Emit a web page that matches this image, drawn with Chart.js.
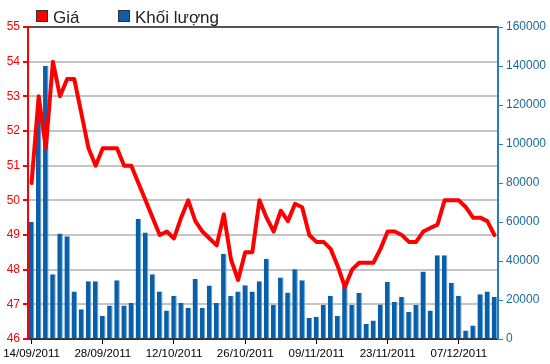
<!DOCTYPE html>
<html>
<head>
<meta charset="utf-8">
<script src="https://cdn.jsdelivr.net/npm/chart.js@4.4.1/dist/chart.umd.min.js"></script>
<style>
  html, body { margin: 0; padding: 0; background: #fff; }
  #wrap { width: 550px; height: 364px; }
</style>
</head>
<body>
<div id="wrap"><canvas id="chart" width="550" height="364"></canvas></div>
<script>
// Trading days (categories)
const dates = [
  '14/09/2011', '15/09/2011', '16/09/2011', '19/09/2011', '20/09/2011', '21/09/2011', '22/09/2011', '23/09/2011',
  '26/09/2011', '27/09/2011', '28/09/2011', '29/09/2011', '30/09/2011',
  '03/10/2011', '04/10/2011', '05/10/2011', '06/10/2011', '07/10/2011',
  '10/10/2011', '11/10/2011', '12/10/2011', '13/10/2011', '14/10/2011',
  '17/10/2011', '18/10/2011', '19/10/2011', '20/10/2011', '21/10/2011',
  '24/10/2011', '25/10/2011', '26/10/2011', '27/10/2011', '28/10/2011',
  '31/10/2011', '01/11/2011', '02/11/2011', '03/11/2011', '04/11/2011',
  '07/11/2011', '08/11/2011', '09/11/2011', '10/11/2011', '11/11/2011',
  '14/11/2011', '15/11/2011', '16/11/2011', '17/11/2011', '18/11/2011',
  '21/11/2011', '22/11/2011', '23/11/2011', '24/11/2011', '25/11/2011',
  '28/11/2011', '29/11/2011', '30/11/2011', '01/12/2011', '02/12/2011',
  '05/12/2011', '06/12/2011', '07/12/2011', '08/12/2011', '09/12/2011',
  '12/12/2011', '13/12/2011', '14/12/2011'
];

// Dates that get a label on the x axis
const shownDates = ['14/09/2011', '28/09/2011', '12/10/2011', '26/10/2011', '09/11/2011', '23/11/2011', '07/12/2011'];

// Giá
const prices = [
  50.5, 53.0, 51.5, 54.0, 53.0, 53.5, 53.5, 52.5, 51.5, 51.0,
  51.5, 51.5, 51.5, 51.0, 51.0, 50.5, 50.0, 49.5, 49.0, 49.1,
  48.9, 49.5, 50.0, 49.4, 49.1, 48.9, 48.7, 49.6, 48.3, 47.7,
  48.5, 48.5, 50.0, 49.5, 49.1, 49.7, 49.4, 49.9, 49.8, 49.0,
  48.8, 48.8, 48.6, 48.1, 47.5, 48.0, 48.2, 48.2, 48.2, 48.6,
  49.1, 49.1, 49.0, 48.8, 48.8, 49.1, 49.2, 49.3, 50.0, 50.0,
  50.0, 49.8, 49.5, 49.5, 49.4, 49.0
];

// Khối lượng
const volumes = [
  60000, 118000, 140000, 33200, 54100, 52700, 24300, 15300, 29600, 29600,
  11900, 17200, 30100, 17200, 18400, 61500, 54600, 33200, 24300, 14600,
  22200, 18600, 16000, 30800, 16000, 27400, 18400, 43700, 22200, 24300,
  27600, 24300, 29600, 41200, 17400, 31500, 23800, 35800, 30100, 10800,
  11400, 17400, 22200, 11900, 27400, 17400, 23600, 7700, 9500, 17700,
  29400, 19100, 21700, 13900, 17400, 34600, 14600, 43000, 43000, 28800,
  22200, 4300, 6900, 22900, 24300, 21700
];

Chart.defaults.font.family = '"Liberation Sans", Arial, sans-serif';

// Legend drawn at the top left, like the original
const topLegend = {
  id: 'topLegend',
  afterDraw(chart) {
    const ctx = chart.ctx;
    const items = [
      { x: 36, color: chart.data.datasets[0].borderColor, text: chart.data.datasets[0].label },
      { x: 118, color: chart.data.datasets[1].backgroundColor, text: chart.data.datasets[1].label }
    ];
    ctx.save();
    ctx.font = '17px "Liberation Sans", Arial, sans-serif';
    ctx.textBaseline = 'alphabetic';
    items.forEach(item => {
      ctx.fillStyle = item.color;
      ctx.fillRect(item.x, 10, 12, 12);
      ctx.strokeStyle = '#333';
      ctx.lineWidth = 1;
      ctx.strokeRect(item.x + 0.5, 10.5, 11, 11);
      ctx.fillStyle = '#222';
      ctx.fillText(item.text, item.x + 17, 23);
    });
    ctx.restore();
  }
};

const chart = new Chart(document.getElementById('chart'), {
  data: {
    labels: dates,
    datasets: [
      {
        type: 'line',
        label: 'Giá',
        data: prices,
        yAxisID: 'yPrice',
        borderColor: '#ff0000',
        backgroundColor: '#ff0000',
        borderWidth: 4,
        borderJoinStyle: 'round',
        borderCapStyle: 'round',
        pointRadius: 0,
        tension: 0,
        order: 0
      },
      {
        type: 'bar',
        label: 'Khối lượng',
        data: volumes,
        yAxisID: 'yVol',
        backgroundColor: '#0b5ea8',
        borderColor: '#5aa6e6',
        borderWidth: { left: 0, right: 1, top: 0, bottom: 0 },
        barPercentage: 0.78,
        categoryPercentage: 1,
        order: 1
      }
    ]
  },
  options: {
    responsive: false,
    animation: false,
    layout: { padding: { top: 27, left: 0, right: 0, bottom: 0 } },
    plugins: {
      legend: { display: false },
      tooltip: { enabled: false }
    },
    scales: {
      x: {
        offset: true,
        grid: {
          offset: false,
          drawOnChartArea: false,
          tickLength: 5,
          color: ctx => shownDates.includes(dates[ctx.index]) ? '#000' : 'rgba(0,0,0,0)'
        },
        border: { color: '#333', width: 2 },
        ticks: {
          autoSkip: false,
          maxRotation: 0,
          color: '#000',
          font: { size: 11.5 },
          callback: (value, index) => shownDates.includes(dates[index]) ? dates[index] : ''
        },
        afterFit: scale => { scale.height = 25; }
      },
      yPrice: {
        position: 'left',
        min: 46,
        max: 55,
        ticks: { stepSize: 1, color: '#ff0000', font: { size: 12 } },
        grid: {
          color: ctx => ctx.tick.value === 55 ? '#555' : '#c4c4c4',
          lineWidth: 2,
          tickColor: '#ff0000',
          tickLength: 5
        },
        border: { color: '#ff0000', width: 2 },
        afterFit: scale => { scale.width = 28; }
      },
      yVol: {
        position: 'right',
        min: 0,
        max: 160000,
        ticks: {
          stepSize: 20000,
          color: '#1a6a9e',
          font: { size: 12 },
          callback: value => String(value) // no thousands separator
        },
        grid: { drawOnChartArea: false, tickColor: '#2a7db5', tickLength: 5 },
        border: { color: '#2a7db5', width: 2 },
        afterFit: scale => { scale.width = 52; }
      }
    }
  },
  plugins: [topLegend]
});
</script>
</body>
</html>
